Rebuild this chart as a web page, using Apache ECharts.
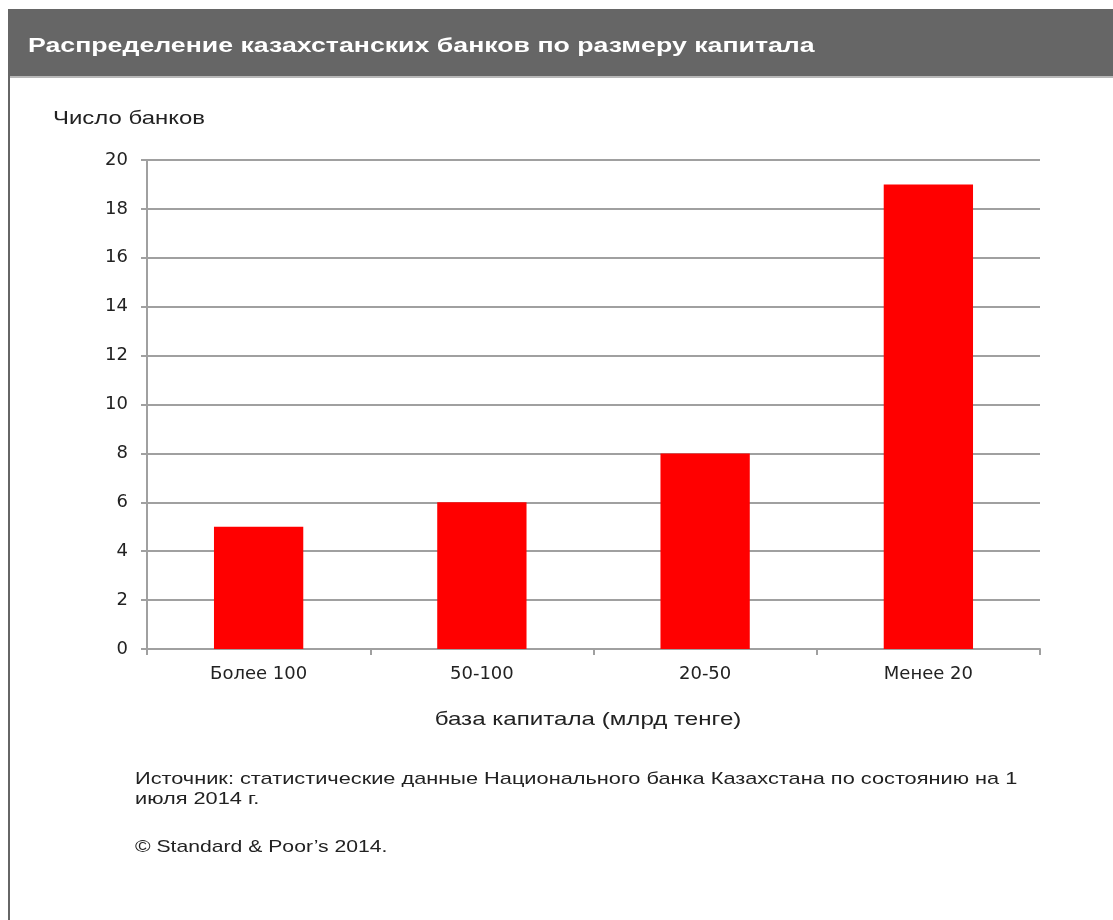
<!DOCTYPE html>
<html><head><meta charset="utf-8">
<script src="https://cdn.jsdelivr.net/npm/echarts@6/dist/echarts.min.js"></script>
<style>html,body{margin:0;padding:0;background:#fff}#c{width:1113px;height:920px}</style>
</head><body><div id="c"></div>
<script>
var categories = ['Более 100', '50-100', '20-50', 'Менее 20'];
var banks = [5, 6, 8, 19];
var yTicks = {min: 0, max: 20, interval: 2};
var titleText = 'Распределение казахстанских банков по размеру капитала';
var yName = 'Число банков';
var xName = 'база капитала (млрд тенге)';
var sourceText = 'Источник: статистические данные Национального банка Казахстана по состоянию на 1\nиюля 2014 г.';
var copyText = '© Standard & Poor\u2019s 2014.';

var font = '"Liberation Sans", Arial, sans-serif';
var wide = '"DejaVu Sans", sans-serif';
var chart = echarts.init(document.getElementById('c'), null, {renderer: 'canvas'});
chart.setOption({
  animation: false,
  backgroundColor: '#fff',
  grid: {left: 147, right: 73, top: 160, bottom: 271, containLabel: false},
  xAxis: {
    type: 'category', data: categories,
    axisLine: {lineStyle: {color: '#a0a0a0', width: 2}},
    axisTick: {show: true, length: 6, lineStyle: {color: '#a0a0a0', width: 2}},
    axisLabel: {fontFamily: wide, fontSize: 18, color: '#222', margin: 16}
  },
  yAxis: {
    type: 'value', min: yTicks.min, max: yTicks.max, interval: yTicks.interval,
    axisLine: {show: true, lineStyle: {color: '#a0a0a0', width: 2}},
    axisTick: {show: true, length: 6, lineStyle: {color: '#a0a0a0', width: 2}},
    axisLabel: {fontFamily: wide, fontSize: 18, color: '#222', margin: 19},
    splitLine: {lineStyle: {color: '#a0a0a0', width: 2}}
  },
  series: [{
    type: 'bar', data: banks, barWidth: '40%',
    itemStyle: {color: '#ff0000'}
  }],
  graphic: [
    {type: 'rect', shape: {x: 9, y: 9, width: 1104, height: 67}, style: {fill: '#666666'}, z: 10},
    {type: 'rect', shape: {x: 9, y: 76, width: 1104, height: 2}, style: {fill: '#b8b8b8'}, z: 10},
    {type: 'rect', shape: {x: 8, y: 9, width: 2, height: 911}, style: {fill: '#666666'}, z: 10},
    {type: 'text', x: 28, y: 46, scaleX: 1.335, z: 11, style: {text: titleText, fill: '#ffffff', font: 'bold 20px ' + font, textVerticalAlign: 'middle'}},
    {type: 'text', x: 53, y: 119, scaleX: 1.26, z: 11, style: {text: yName, fill: '#222', font: '19px ' + font, textVerticalAlign: 'middle'}},
    {type: 'text', x: 588, y: 720, scaleX: 1.27, z: 11, style: {text: xName, fill: '#222', font: '19px ' + font, textAlign: 'center', textVerticalAlign: 'middle'}},
    {type: 'text', x: 135, y: 769, scaleX: 1.28, z: 11, style: {text: sourceText, fill: '#222', font: '17px ' + font, lineHeight: 20}},
    {type: 'text', x: 135, y: 839, scaleX: 1.245, z: 11, style: {text: copyText, fill: '#222', font: '17px ' + font}}
  ]
});
</script></body></html>
